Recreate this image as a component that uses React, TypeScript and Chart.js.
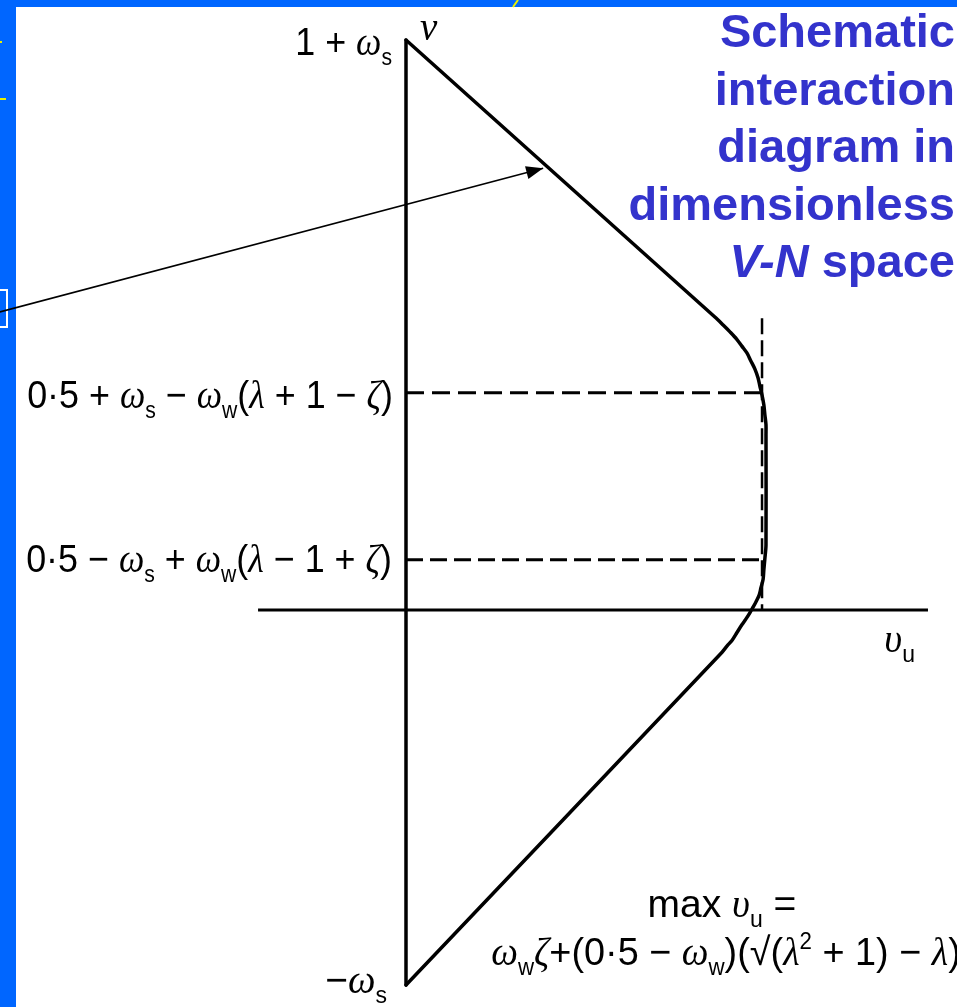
import { useEffect, useRef } from 'react';
import { Chart, registerables } from 'chart.js';

Chart.register(...registerables);

const W = 957;
const H = 1007;

// ν-axis: from the bottom vertex (−ωs) up to the top vertex (1 + ωs)
const nuTop = 1.0;
const nuBottom = -0.658;

// Interaction envelope in dimensionless V-N space: from the top vertex down the upper branch,
// round the max υu bulge and back along the lower branch to the bottom vertex.
const envelopeVu = [
  0, 0.858, 0.881, 0.9, 0.919, 0.933, 0.947, 0.958, 0.969, 0.978, 0.983, 0.989, 0.994, 0.997,
  1.0, 1.0, 1.0, 0.997, 0.994, 0.992, 0.986, 0.981, 0.972, 0.964, 0.956, 0.944, 0.933, 0.919,
  0.906, 0.892, 0.878, 0,
];
const envelopeNu = [
  1.0, 0.514, 0.5, 0.488, 0.475, 0.463, 0.451, 0.437, 0.423, 0.407, 0.393, 0.377, 0.36,
  0.342, 0.325, 0.307, 0.114, 0.091, 0.07, 0.054, 0.039, 0.026, 0.014, 0.005, -0.004, -0.016,
  -0.026, -0.04, -0.053, -0.063, -0.074, -0.658,
];

// υu axis
const axisVu = [-0.411, 1.45];
const axisNu = [0, 0];

// ν levels where the envelope reaches max υu (upper and lower ends of the flat part)
const upperLevelNu = 0.381;
const lowerLevelNu = 0.088;
const levelStartVu = 0;
const upperLevelEndVu = 0.989;
const lowerLevelEndVu = 1.0;

// vertical guide at max υu
const guideVu = 0.989;
const guideNu = [0.512, 0];

// pointer onto the upper branch
const arrowVu = [-1.128, 0.381];
const arrowNu = [0.523, 0.775];

const titleLines = ['Schematic', 'interaction', 'diagram in', 'dimensionless'];
const titleLastItalic = 'V-N';
const titleLastRest = ' space';

type Seg = { t: string; it?: boolean; sub?: boolean; sup?: boolean };

const omega: Seg = { t: 'ω', it: true };
const lambda: Seg = { t: 'λ', it: true };
const zeta: Seg = { t: 'ζ', it: true };
const subS: Seg = { t: 's', sub: true };
const subW: Seg = { t: 'w', sub: true };

const labelTop: Seg[] = [{ t: '1 + ' }, omega, subS];
const labelUpper: Seg[] = [
  { t: '0·5 + ' }, omega, subS, { t: ' − ' }, omega, subW, { t: '(' }, lambda, { t: ' + 1 − ' }, zeta, { t: ')' },
];
const labelLower: Seg[] = [
  { t: '0·5 − ' }, omega, subS, { t: ' + ' }, omega, subW, { t: '(' }, lambda, { t: ' − 1 + ' }, zeta, { t: ')' },
];
const labelBottom: Seg[] = [{ t: '−' }, omega, subS];
const labelNu: Seg[] = [{ t: 'ν', it: true }];
const labelVu: Seg[] = [{ t: 'υ', it: true }, { t: 'u', sub: true }];
const labelMax1: Seg[] = [{ t: 'max ' }, { t: 'υ', it: true }, { t: 'u', sub: true }, { t: ' =' }];
const labelMax2: Seg[] = [
  omega, subW, { t: 'ζ', it: true }, { t: '+(0·5 − ' }, omega, subW, { t: ')(√(' }, lambda,
  { t: '2', sup: true }, { t: ' + 1) − ' }, lambda, { t: ')' },
];

const SANS = '"Liberation Sans", Arial, sans-serif';
const SERIF = '"Liberation Serif", "Times New Roman", serif';
const LABEL_SIZE = 39;

function fontOf(s: Seg, size: number) {
  const sz = s.sub || s.sup ? Math.round(size * 0.6) : size;
  return `${s.it ? 'italic ' : ''}${sz}px ${s.it ? SERIF : SANS}`;
}

// draws a run of mixed upright / italic / sub / superscript text, squeezed horizontally by k
function drawRich(
  ctx: CanvasRenderingContext2D,
  segs: Seg[],
  x: number,
  y: number,
  size: number,
  align: 'left' | 'right' | 'center',
  k = 1,
) {
  const widths = segs.map((s) => {
    ctx.font = fontOf(s, size);
    return ctx.measureText(s.t).width;
  });
  const total = widths.reduce((a, b) => a + b, 0);
  let cx = align === 'right' ? -total : align === 'center' ? -total / 2 : 0;
  ctx.save();
  ctx.translate(x, 0);
  ctx.scale(k, 1);
  ctx.textAlign = 'left';
  ctx.textBaseline = 'alphabetic';
  segs.forEach((s, i) => {
    ctx.font = fontOf(s, size);
    const dy = s.sub ? size * 0.25 : s.sup ? -size * 0.42 : 0;
    ctx.fillText(s.t, cx, y + dy);
    cx += widths[i];
  });
  ctx.restore();
}

const backdrop = {
  id: 'backdrop',
  beforeDraw(chart: Chart) {
    const ctx = chart.ctx;
    ctx.save();
    ctx.fillStyle = '#ffffff';
    ctx.fillRect(0, 0, chart.width, chart.height);
    ctx.fillStyle = '#0066ff';
    ctx.fillRect(0, 0, chart.width, 7);
    ctx.fillRect(0, 0, 16, chart.height);
    // slide decorations on the frame
    ctx.strokeStyle = '#e8f000';
    ctx.lineWidth = 2;
    ctx.beginPath();
    ctx.moveTo(513, 7);
    ctx.lineTo(518, 0);
    ctx.moveTo(0, 42);
    ctx.lineTo(2, 42);
    ctx.moveTo(0, 99);
    ctx.lineTo(6, 99);
    ctx.stroke();
    ctx.strokeStyle = '#ffffff';
    ctx.lineWidth = 2;
    ctx.beginPath();
    ctx.moveTo(0, 290);
    ctx.lineTo(7, 290);
    ctx.lineTo(7, 327);
    ctx.lineTo(0, 327);
    ctx.stroke();
    ctx.restore();
  },
};

const ARROW_INDEX = 6;

const annotations = {
  id: 'annotations',
  afterDatasetsDraw(chart: Chart) {
    const ctx = chart.ctx;
    const xs = chart.scales.x;
    const ys = chart.scales.y;
    ctx.save();

    // arrow head at the end of the pointer
    const meta = chart.getDatasetMeta(ARROW_INDEX);
    const p0 = meta.data[0] as any;
    const p1 = meta.data[1] as any;
    const ang = Math.atan2(p1.y - p0.y, p1.x - p0.x);
    const len = 17;
    const half = 6.5;
    ctx.fillStyle = '#000';
    ctx.beginPath();
    ctx.moveTo(p1.x, p1.y);
    ctx.lineTo(
      p1.x - len * Math.cos(ang) - half * Math.sin(ang),
      p1.y - len * Math.sin(ang) + half * Math.cos(ang),
    );
    ctx.lineTo(
      p1.x - len * Math.cos(ang) + half * Math.sin(ang),
      p1.y - len * Math.sin(ang) - half * Math.cos(ang),
    );
    ctx.closePath();
    ctx.fill();

    const x0 = xs.getPixelForValue(0);
    const yTop = ys.getPixelForValue(nuTop);
    const yBot = ys.getPixelForValue(nuBottom);
    const yUp = ys.getPixelForValue(upperLevelNu);
    const yLow = ys.getPixelForValue(lowerLevelNu);
    const yAxis = ys.getPixelForValue(0);
    const xAxisEnd = xs.getPixelForValue(axisVu[1]);
    const xMax = xs.getPixelForValue(1);

    ctx.fillStyle = '#000';
    drawRich(ctx, labelTop, x0 - 14, yTop + 15, LABEL_SIZE, 'right', 0.92);
    drawRich(ctx, labelNu, x0 + 14, yTop, LABEL_SIZE, 'left');
    drawRich(ctx, labelUpper, x0 - 13, yUp + 15, LABEL_SIZE, 'right', 0.92);
    drawRich(ctx, labelLower, x0 - 14, yLow + 12, LABEL_SIZE, 'right', 0.92);
    drawRich(ctx, labelBottom, x0 - 19, yBot + 8, LABEL_SIZE, 'right');
    drawRich(ctx, labelVu, xAxisEnd - 13, yAxis + 42, LABEL_SIZE, 'right');
    drawRich(ctx, labelMax1, xMax - 44, yBot - 68, LABEL_SIZE, 'center');
    drawRich(ctx, labelMax2, xMax - 40, yBot - 20, LABEL_SIZE, 'center', 0.97);

    // title block, right aligned
    const titleSize = 47;
    const right = chart.width - 2;
    ctx.fillStyle = '#3333cc';
    ctx.textAlign = 'right';
    ctx.textBaseline = 'alphabetic';
    ctx.font = `bold ${titleSize}px ${SANS}`;
    titleLines.forEach((line, i) => ctx.fillText(line, right, 47 + i * 57.5));
    const lastY = 47 + titleLines.length * 57.5;
    const restW = ctx.measureText(titleLastRest).width;
    ctx.fillText(titleLastRest, right, lastY);
    ctx.font = `italic bold ${titleSize}px ${SANS}`;
    ctx.fillText(titleLastItalic, right - restW, lastY);

    ctx.restore();
  },
};

const line = (
  xs: number[],
  ys: number[],
  width: number,
  dash: number[] = [],
  tension = 0,
  cap: 'butt' | 'round' = 'butt',
) => ({
  data: xs.map((x, i) => ({ x, y: ys[i] })),
  showLine: true,
  borderColor: '#000',
  backgroundColor: '#000',
  borderWidth: width,
  borderDash: dash,
  pointRadius: 0,
  tension,
  fill: false,
  borderJoinStyle: 'round' as const,
  borderCapStyle: cap,
});

export default function App() {
  const ref = useRef<HTMLCanvasElement>(null);

  useEffect(() => {
    if (!ref.current) return;
    const chart = new Chart(ref.current, {
      type: 'scatter',
      data: {
        datasets: [
          line([0, 0], [nuBottom, nuTop], 3.5, [], 0, 'round'),
          line(envelopeVu, envelopeNu, 3.5, [], 0.3, 'round'),
          line(axisVu, axisNu, 3),
          line([levelStartVu, upperLevelEndVu], [upperLevelNu, upperLevelNu], 3, [18, 8]),
          line([levelStartVu, lowerLevelEndVu], [lowerLevelNu, lowerLevelNu], 3, [17, 7]),
          line([guideVu, guideVu], guideNu, 2.5, [16, 6]),
          line(arrowVu, arrowNu, 1.6),
        ],
      },
      options: {
        animation: false,
        responsive: false,
        devicePixelRatio: 1,
        layout: { padding: 0 },
        plugins: { legend: { display: false }, tooltip: { enabled: false }, title: { display: false } },
        events: [],
        scales: {
          x: { type: 'linear', min: -1.1278, max: 1.5306, display: false },
          y: { type: 'linear', min: -0.6965, max: 1.0702, display: false },
        },
      },
      plugins: [backdrop, annotations],
    });
    return () => chart.destroy();
  }, []);

  return (
    <div style={{ position: 'fixed', left: 0, top: 0, width: W, height: H, background: '#fff' }}>
      <canvas ref={ref} width={W} height={H} style={{ display: 'block', width: W, height: H }} />
    </div>
  );
}
